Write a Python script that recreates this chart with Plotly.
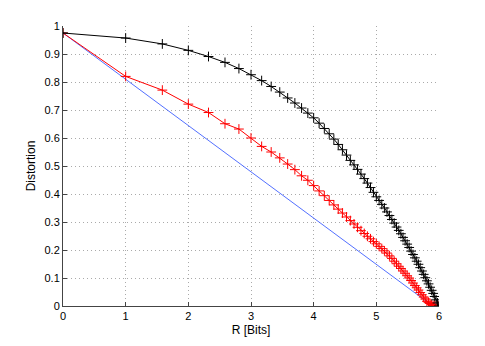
import plotly.graph_objects as go

# rate in bits: log2 of the number of levels, 1..64
rate = [0.0, 1.0, 1.585, 2.0, 2.322, 2.585, 2.807, 3.0, 3.17, 3.322, 3.459, 3.585, 3.7, 3.807, 3.907, 4.0,
        4.087, 4.17, 4.248, 4.322, 4.392, 4.459, 4.524, 4.585, 4.644, 4.7, 4.755, 4.807, 4.858, 4.907, 4.954, 5.0,
        5.044, 5.087, 5.129, 5.17, 5.209, 5.248, 5.285, 5.322, 5.358, 5.392, 5.426, 5.459, 5.492, 5.524, 5.555, 5.585,
        5.615, 5.644, 5.672, 5.7, 5.728, 5.755, 5.781, 5.807, 5.833, 5.858, 5.883, 5.907, 5.931, 5.954, 5.977, 6.0]

dist_black = [0.975, 0.957, 0.936, 0.913, 0.891, 0.870, 0.848, 0.826, 0.805, 0.784, 0.764, 0.743, 0.725, 0.707, 0.689, 0.672,
              0.653, 0.634, 0.615, 0.596, 0.577, 0.558, 0.539, 0.520, 0.504, 0.488, 0.471, 0.455, 0.439, 0.423, 0.406, 0.390,
              0.377, 0.363, 0.350, 0.336, 0.323, 0.309, 0.296, 0.282, 0.270, 0.258, 0.245, 0.233, 0.221, 0.209, 0.196, 0.184,
              0.172, 0.160, 0.149, 0.137, 0.125, 0.113, 0.101, 0.090, 0.079, 0.067, 0.056, 0.045, 0.034, 0.022, 0.011, 0.0]

dist_red = [0.975, 0.820, 0.771, 0.721, 0.691, 0.651, 0.632, 0.600, 0.570, 0.550, 0.529, 0.507, 0.487, 0.465, 0.449, 0.430,
            0.411, 0.394, 0.377, 0.361, 0.346, 0.332, 0.318, 0.305, 0.293, 0.281, 0.269, 0.259, 0.249, 0.240, 0.230, 0.222,
            0.213, 0.205, 0.197, 0.189, 0.179, 0.170, 0.160, 0.151, 0.142, 0.134, 0.125, 0.117, 0.108, 0.100, 0.091, 0.082,
            0.073, 0.065, 0.057, 0.048, 0.040, 0.032, 0.025, 0.017, 0.013, 0.009, 0.005, 0.002, 0.001, 0.0, 0.0, 0.0]

bound_rate = [0.0, 5.9]
bound_dist = [0.975, 0.0]

x_ticks = [0, 1, 2, 3, 4, 5, 6]
y_ticks = [0, 0.1, 0.2, 0.3, 0.4, 0.5, 0.6, 0.7, 0.8, 0.9, 1]
y_labels = ["0", "0.1", "0.2", "0.3", "0.4", "0.5", "0.6", "0.7", "0.8", "0.9", "1"]

fig = go.Figure()
fig.add_trace(go.Scatter(x=bound_rate, y=bound_dist, mode="lines",
                         line=dict(color="#4060ff", width=0.9)))
fig.add_trace(go.Scatter(x=rate, y=dist_red, mode="lines+markers",
                         line=dict(color="red", width=1),
                         marker=dict(symbol="cross-thin", size=7, line=dict(color="red", width=1))))
fig.add_trace(go.Scatter(x=rate, y=dist_black, mode="lines+markers",
                         line=dict(color="black", width=1),
                         marker=dict(symbol="cross-thin", size=7, line=dict(color="black", width=1))))

axis_style = dict(showline=True, linecolor="#444", linewidth=1, mirror=False,
                  ticks="inside", ticklen=4, tickcolor="#444",
                  showgrid=True, gridcolor="#aaaaaa", griddash="1px,3px", gridwidth=1,
                  zeroline=False, tickfont=dict(family="Liberation Sans", size=11, color="black"))

# page body has an 8px default margin, so the figure is a bit smaller
fig.update_layout(
    width=477, height=338,
    margin=dict(l=55, r=46, t=18, b=40),
    paper_bgcolor="white", plot_bgcolor="white",
    showlegend=False,
    xaxis=dict(range=[0, 6], tickvals=x_ticks,
               title=dict(text="R [Bits]", font=dict(family="Liberation Sans", size=12, color="black"), standoff=4),
               **axis_style),
    yaxis=dict(range=[0, 1], tickvals=y_ticks, ticktext=y_labels,
               title=dict(text="Distortion", font=dict(family="Liberation Sans", size=12, color="black"), standoff=6),
               **axis_style),
)

fig.write_html("out.html")
